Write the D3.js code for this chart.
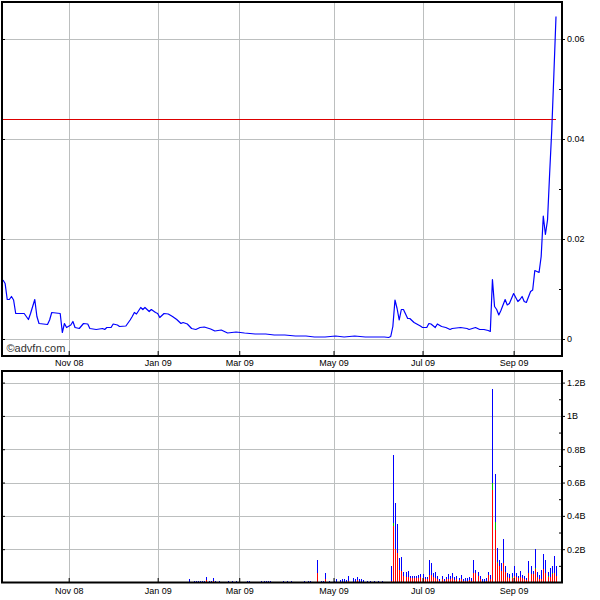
<!DOCTYPE html>
<html><head><meta charset="utf-8">
<script src="https://cdn.jsdelivr.net/npm/d3@7"></script>
<style>body{margin:0;background:#fff}svg{display:block}</style>
</head><body><svg id="c" width="600" height="600"></svg>
<script>
// ---- data (x = trading-day index) ----
const monthLabels = ["Nov 08","Jan 09","Mar 09","May 09","Jul 09","Sep 09"];
const monthDays = [31,73,111.5,156,198,241];
const priceTicks = [0,0.02,0.04,0.06];
const priceTickLabels = ["0","0.02","0.04","0.06"];
const priceMinor = [0.01,0.03,0.05];
const volTicks = [0.2,0.4,0.6,0.8,1.0,1.2];
const volTickLabels = ["0.2B","0.4B","0.6B","0.8B","1B","1.2B"];
const volMinor = [0.1,0.3,0.5,0.7,0.9,1.1];
const refLevel = 0.044;

const priceDays = [0,1,2,3,4,5,6,10,12,13,15,16,17,21,22,23,27,28,29,30,32,33,34,36,38,40,41,44,47,48,49,51,52,54,55,58,60,61,62,63,65,66,67,69,70,72,73,74,76,78,80,82,84,85,87,89,91,93,95,98,100,103,106,110,114,119,124,128,133,138,143,147,152,157,161,166,171,176,180,182,183,184,185,186,187,188,189,191,192,194,197,198,200,201,202,204,205,207,209,211,212,216,219,220,223,225,227,229,230,231,232,233,234,235,237,238,239,240,241,243,244,245,246,247,249,250,251,253,254,255,256,257,258,259,260,261];
const priceVals = [0.0118,0.0111,0.0079,0.0079,0.0085,0.0078,0.0051,0.0051,0.0039,0.0051,0.0079,0.0045,0.0031,0.0029,0.0038,0.0053,0.0051,0.0013,0.0031,0.0023,0.0028,0.0035,0.0023,0.0021,0.0031,0.0030,0.0021,0.0019,0.0021,0.0019,0.0023,0.0023,0.0030,0.0028,0.0025,0.0026,0.0038,0.0045,0.0053,0.0050,0.0063,0.0059,0.0063,0.0055,0.0059,0.0053,0.0051,0.0043,0.0051,0.0050,0.0045,0.0039,0.0031,0.0033,0.0030,0.0021,0.0019,0.0023,0.0024,0.0020,0.0016,0.0018,0.0012,0.0014,0.0012,0.0010,0.0010,0.0008,0.0008,0.0006,0.0006,0.0004,0.0004,0.0006,0.0004,0.0006,0.0004,0.0004,0.0004,0.0003,0.0005,0.0025,0.0078,0.0061,0.0038,0.0059,0.0059,0.0041,0.0041,0.0033,0.0026,0.0023,0.0023,0.0031,0.0030,0.0023,0.0030,0.0025,0.0023,0.0019,0.0021,0.0023,0.0021,0.0019,0.0023,0.0019,0.0019,0.0017,0.0015,0.0119,0.0065,0.0059,0.0048,0.0057,0.0079,0.0068,0.0071,0.0081,0.0091,0.0075,0.0079,0.0085,0.0075,0.0073,0.0095,0.0098,0.0137,0.0133,0.0165,0.0246,0.0209,0.0238,0.0331,0.0418,0.0530,0.0645];

const volDays = [7,28,36,61,88,90,91,92,93,94,95,96,97,98,99,100,102,106,108,110,115,116,122,123,124,125,126,132,134,136,142,144,145,148,150,151,152,154,156,157,159,160,161,162,163,165,166,167,168,169,170,172,173,175,177,179,181,182,183,184,185,186,187,188,189,190,191,192,193,194,195,196,197,198,199,200,201,202,203,204,205,206,207,208,209,210,211,212,213,214,215,216,217,218,219,220,221,222,223,224,225,226,227,228,229,230,231,232,233,234,235,236,237,238,239,240,241,242,243,244,245,246,247,248,249,250,251,252,253,254,255,256,257,258,259,260,261];
const volTotal = [0.006,0.006,0.006,0.006,0.02,0.01,0.01,0.01,0.012,0.01,0.01,0.034,0.012,0.01,0.026,0.01,0.008,0.008,0.008,0.008,0.008,0.008,0.008,0.012,0.01,0.012,0.01,0.008,0.008,0.008,0.008,0.008,0.01,0.135,0.01,0.012,0.06,0.008,0.01,0.02,0.015,0.02,0.02,0.015,0.04,0.025,0.02,0.035,0.022,0.02,0.015,0.01,0.008,0.008,0.008,0.008,0.005,0.005,0.10,0.766,0.48,0.35,0.15,0.155,0.062,0.066,0.07,0.04,0.04,0.04,0.04,0.045,0.05,0.05,0.035,0.035,0.135,0.12,0.06,0.066,0.04,0.02,0.04,0.02,0.035,0.05,0.04,0.055,0.035,0.04,0.025,0.045,0.02,0.025,0.025,0.035,0.025,0.135,0.075,0.062,0.04,0.02,0.02,0.025,0.062,0.045,1.16,0.65,0.21,0.135,0.12,0.26,0.10,0.06,0.05,0.055,0.10,0.06,0.04,0.07,0.045,0.04,0.03,0.13,0.10,0.07,0.20,0.065,0.045,0.075,0.17,0.135,0.065,0.085,0.10,0.16,0.10];
const volRed = [0,0,0,0,0,0,0,0,0,0,0,0.018,0,0,0.01,0,0,0,0,0,0,0,0,0,0,0.004,0,0,0,0,0,0,0,0.06,0,0.004,0.02,0,0,0,0,0,0,0,0.01,0,0,0.015,0,0,0,0,0,0,0,0,0,0,0.01,0.34,0.20,0.18,0.075,0.07,0.04,0.035,0.035,0.03,0.03,0.03,0.03,0.025,0.035,0.025,0.02,0.02,0.045,0.045,0.035,0.025,0.02,0.01,0.02,0.01,0.02,0.02,0.02,0.025,0.015,0.02,0.015,0.02,0.01,0.01,0.01,0.015,0.01,0.055,0.055,0.04,0.02,0.005,0.005,0.01,0.045,0.02,0.556,0.315,0.118,0.10,0.07,0.12,0.065,0.035,0.025,0.03,0.04,0.035,0.025,0.035,0.025,0.02,0.015,0.055,0.05,0.05,0.08,0.035,0.02,0.02,0.08,0.055,0.035,0.035,0.05,0.06,0.04];
const volGreenDays = [184,222,231,232,233,240,250,251,257,259];
const volGreenVals = [0.015,0.004,0.04,0.05,0.005,0.005,0.004,0.005,0.005,0.005];

// ---- drawing ----
const svg = d3.select("#c");
const FONT = "'Liberation Sans', Arial, sans-serif";
const x = d3.scaleLinear().domain([0,261]).range([3,556]);
const yP = d3.scaleLinear().domain([0,0.06]).range([339,39]);
const yV = d3.scaleLinear().domain([0,1.2]).range([582.5,382.6]);
const gridCol = "#bcbfbf";

// grids
function grid(y0, y1, ys, scale){
  const g = svg.append("g");
  g.selectAll(".v").data(monthDays).enter().append("line")
    .attr("x1", d=>Math.round(x(d))+0.5).attr("x2", d=>Math.round(x(d))+0.5)
    .attr("y1", y0).attr("y2", y1).attr("stroke", gridCol).attr("stroke-width",1);
  g.selectAll(".h").data(ys).enter().append("line")
    .attr("x1", 3).attr("x2", 562)
    .attr("y1", d=>Math.round(scale(d))+0.5).attr("y2", d=>Math.round(scale(d))+0.5)
    .attr("stroke", gridCol).attr("stroke-width",1);
}
grid(3, 355, priceTicks, yP);
grid(372, 582, volTicks, yV);

// copyright
svg.append("text").attr("x",6.5).attr("y",351.5).attr("font-family",FONT)
  .attr("font-size",11).attr("fill","#333").text("\u00A9advfn.com");

// reference line
svg.append("line").attr("x1", x(0)).attr("x2", x(261))
  .attr("y1", Math.round(yP(refLevel))+0.5).attr("y2", Math.round(yP(refLevel))+0.5)
  .attr("stroke","#dd0000").attr("stroke-width",1);

// price line
const pts = priceDays.map((d,i)=>[d, priceVals[i]]);
svg.append("path").datum(pts)
  .attr("d", d3.line().x(d=>x(d[0])).y(d=>yP(d[1])))
  .attr("fill","none").attr("stroke","#0000ff").attr("stroke-width",1.2)
  .attr("stroke-linejoin","round");

// volume bars
const gmap = new Map(volGreenDays.map((d,i)=>[d, volGreenVals[i]]));
const bars = volDays.map((d,i)=>({d, t:volTotal[i], r:volRed[i], g:gmap.get(d)||0}));
const vb = svg.append("g").attr("shape-rendering","crispEdges");
bars.forEach(b=>{
  const bx = Math.round(x(b.d));
  const segs = [[0,b.r,"#ff0000"],[b.r,b.r+b.g,"#00c000"],[b.r+b.g,b.t,"#0000ff"]];
  segs.forEach(s=>{
    if (s[1] > s[0]) {
      const yt = Math.round(yV(s[1])), yb = Math.round(yV(s[0]));
      vb.append("rect").attr("x",bx).attr("width",1)
        .attr("y", Math.min(yt, yb-1)).attr("height", Math.max(yb-yt, 1))
        .attr("fill", s[2]);
    }
  });
});

// frames
svg.append("rect").attr("x",2).attr("y",2).attr("width",560).attr("height",354)
  .attr("fill","none").attr("stroke","#000").attr("stroke-width",2);
svg.append("rect").attr("x",2).attr("y",371).attr("width",560).attr("height",211.5)
  .attr("fill","none").attr("stroke","#000").attr("stroke-width",2);

function styleAxis(g){
  g.select(".domain").remove();
  g.selectAll("text").attr("font-family",FONT).attr("font-size",9).attr("fill","#000");
  g.selectAll("line").attr("stroke","#000");
  g.attr("font-family",FONT);
}
// right axes with labels
svg.append("g").attr("transform","translate(562,0)")
  .call(d3.axisRight(yP).tickValues(priceTicks).tickFormat((d,i)=>priceTickLabels[i]).tickSize(3).tickPadding(2))
  .call(styleAxis);
svg.append("g").attr("transform","translate(562,0)")
  .call(d3.axisLeft(yP).tickValues(priceMinor).tickFormat("").tickSize(3)).call(styleAxis);
svg.append("g").attr("transform","translate(562,0)")
  .call(d3.axisRight(yV).tickValues(volTicks).tickFormat((d,i)=>volTickLabels[i]).tickSize(3).tickPadding(2))
  .call(styleAxis);
svg.append("g").attr("transform","translate(562,0)")
  .call(d3.axisLeft(yV).tickValues(volMinor).tickFormat("").tickSize(3)).call(styleAxis);
// left inner ticks
svg.append("g").attr("transform","translate(2,0)")
  .call(d3.axisRight(yP).tickValues(priceTicks).tickFormat("").tickSize(3)).call(styleAxis);
svg.append("g").attr("transform","translate(2,0)")
  .call(d3.axisRight(yV).tickValues(volTicks).tickFormat("").tickSize(3)).call(styleAxis);
// bottom month labels
svg.append("g").attr("transform","translate(0,356)")
  .call(d3.axisBottom(x).tickValues(monthDays).tickFormat((d,i)=>monthLabels[i]).tickSize(0).tickPadding(4))
  .call(styleAxis);
svg.append("g").attr("transform","translate(0,583)")
  .call(d3.axisBottom(x).tickValues(monthDays).tickFormat((d,i)=>monthLabels[i]).tickSize(0).tickPadding(5))
  .call(styleAxis);
// inner month ticks
svg.append("g").attr("transform","translate(0,355)")
  .call(d3.axisTop(x).tickValues(monthDays).tickFormat("").tickSize(4)).call(styleAxis);
svg.append("g").attr("transform","translate(0,582)")
  .call(d3.axisTop(x).tickValues(monthDays).tickFormat("").tickSize(4)).call(styleAxis);
</script></body></html>
